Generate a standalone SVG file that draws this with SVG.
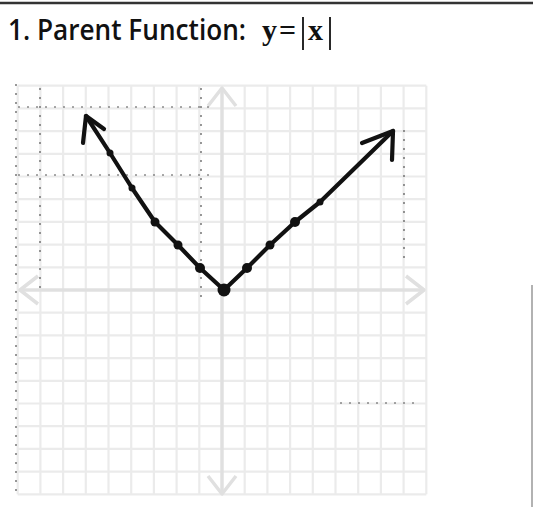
<svg xmlns="http://www.w3.org/2000/svg" width="533" height="507" viewBox="0 0 533 507">
<defs>
<style>
.title{font-family:"Open Sans","Liberation Sans",sans-serif;font-weight:600;font-size:28px;fill:#111}
.math{font-family:"Liberation Serif","DejaVu Serif",serif;font-weight:bold;font-size:30px;fill:#111}
.grid line{stroke:#ebebeb;stroke-width:2.2}
.axis{stroke:#e0e0e0;stroke-width:3.5;fill:none}
.ahead{fill:none;stroke:#e0e0e0;stroke-width:3.5;stroke-linejoin:round}
.noise{stroke:#555;stroke-width:1.2;stroke-dasharray:2 7;fill:none}
.curve{fill:none;stroke:#111;stroke-width:4.2;stroke-linecap:round;stroke-linejoin:round}
.dot{fill:#111}
</style>
</defs>
<rect width="533" height="507" fill="#fff"/>
<line x1="0" y1="3" x2="533" y2="3" stroke="#333" stroke-width="2.5"/>
<line x1="532" y1="285" x2="532" y2="507" stroke="#999" stroke-width="1.5"/>
<g id="title">
<text class="title" x="8" y="40" textLength="238" lengthAdjust="spacingAndGlyphs">1. Parent Function:</text>
<text class="math" x="262" y="40">y</text>
<text class="math" x="279" y="40">=</text>
<line x1="303" y1="17" x2="303" y2="50" stroke="#111" stroke-width="1.8"/>
<text class="math" x="308" y="40">x</text>
<line x1="330" y1="17" x2="330" y2="50" stroke="#111" stroke-width="1.8"/>
</g>
<g id="grid" class="grid">
<line x1="17.7" y1="85.7" x2="17.7" y2="494.3"/>
<line x1="40.4" y1="85.7" x2="40.4" y2="494.3"/>
<line x1="63.1" y1="85.7" x2="63.1" y2="494.3"/>
<line x1="85.8" y1="85.7" x2="85.8" y2="494.3"/>
<line x1="108.5" y1="85.7" x2="108.5" y2="494.3"/>
<line x1="131.2" y1="85.7" x2="131.2" y2="494.3"/>
<line x1="153.9" y1="85.7" x2="153.9" y2="494.3"/>
<line x1="176.6" y1="85.7" x2="176.6" y2="494.3"/>
<line x1="199.3" y1="85.7" x2="199.3" y2="494.3"/>
<line x1="244.7" y1="85.7" x2="244.7" y2="494.3"/>
<line x1="267.4" y1="85.7" x2="267.4" y2="494.3"/>
<line x1="290.1" y1="85.7" x2="290.1" y2="494.3"/>
<line x1="312.8" y1="85.7" x2="312.8" y2="494.3"/>
<line x1="335.5" y1="85.7" x2="335.5" y2="494.3"/>
<line x1="358.2" y1="85.7" x2="358.2" y2="494.3"/>
<line x1="380.9" y1="85.7" x2="380.9" y2="494.3"/>
<line x1="403.6" y1="85.7" x2="403.6" y2="494.3"/>
<line x1="426.3" y1="85.7" x2="426.3" y2="494.3"/>
<line x1="17.7" y1="85.7" x2="426.3" y2="85.7"/>
<line x1="17.7" y1="108.4" x2="426.3" y2="108.4"/>
<line x1="17.7" y1="131.1" x2="426.3" y2="131.1"/>
<line x1="17.7" y1="153.8" x2="426.3" y2="153.8"/>
<line x1="17.7" y1="176.5" x2="426.3" y2="176.5"/>
<line x1="17.7" y1="199.2" x2="426.3" y2="199.2"/>
<line x1="17.7" y1="221.9" x2="426.3" y2="221.9"/>
<line x1="17.7" y1="244.6" x2="426.3" y2="244.6"/>
<line x1="17.7" y1="267.3" x2="426.3" y2="267.3"/>
<line x1="17.7" y1="312.7" x2="426.3" y2="312.7"/>
<line x1="17.7" y1="335.4" x2="426.3" y2="335.4"/>
<line x1="17.7" y1="358.1" x2="426.3" y2="358.1"/>
<line x1="17.7" y1="380.8" x2="426.3" y2="380.8"/>
<line x1="17.7" y1="403.5" x2="426.3" y2="403.5"/>
<line x1="17.7" y1="426.2" x2="426.3" y2="426.2"/>
<line x1="17.7" y1="448.9" x2="426.3" y2="448.9"/>
<line x1="17.7" y1="471.6" x2="426.3" y2="471.6"/>
<line x1="17.7" y1="494.3" x2="426.3" y2="494.3"/>
</g>
<g id="axes">
<line class="axis" x1="222" y1="88" x2="222" y2="494"/>
<line class="axis" x1="20" y1="290" x2="424" y2="290"/>
<polyline class="ahead" points="208,106 222,88 236,106"/>
<polyline class="ahead" points="208,476 222,494 236,476"/>
<polyline class="ahead" points="38,276 20,290 38,304"/>
<polyline class="ahead" points="406,276 424,290 406,304"/>
</g>
<g id="noise">
<line class="noise" x1="16" y1="84" x2="16" y2="496"/>
<line class="noise" x1="40" y1="88" x2="40" y2="290"/>
<line class="noise" x1="201" y1="88" x2="201" y2="300"/>
<line class="noise" x1="18" y1="107" x2="210" y2="107"/>
<line class="noise" x1="18" y1="175" x2="210" y2="175"/>
<line class="noise" x1="404" y1="130" x2="404" y2="260"/>
<line class="noise" x1="340" y1="403" x2="418" y2="403"/>
</g>
<g id="connectors">
<polyline class="curve" points="224,290 200,268 178,245 155,222 132,188 110,153 86,116"/>
<polyline class="curve" points="83,143 86,116 104,129"/>
<polyline class="curve" points="224,290 247,268 270,245 295,222 320,202 393,131"/>
<polyline class="curve" points="362,143 393,131 392,160"/>
</g>
<g id="points">
<circle class="dot" cx="224" cy="290" r="6.5"/>
<circle class="dot" cx="200" cy="268" r="5"/>
<circle class="dot" cx="178" cy="245" r="4.5"/>
<circle class="dot" cx="155" cy="222" r="4.5"/>
<circle class="dot" cx="132" cy="188" r="3.5"/>
<circle class="dot" cx="110" cy="153" r="3.5"/>
<circle class="dot" cx="247" cy="268" r="5"/>
<circle class="dot" cx="270" cy="245" r="4.5"/>
<circle class="dot" cx="295" cy="222" r="5"/>
<circle class="dot" cx="320" cy="202" r="3.5"/>
</g>
</svg>
